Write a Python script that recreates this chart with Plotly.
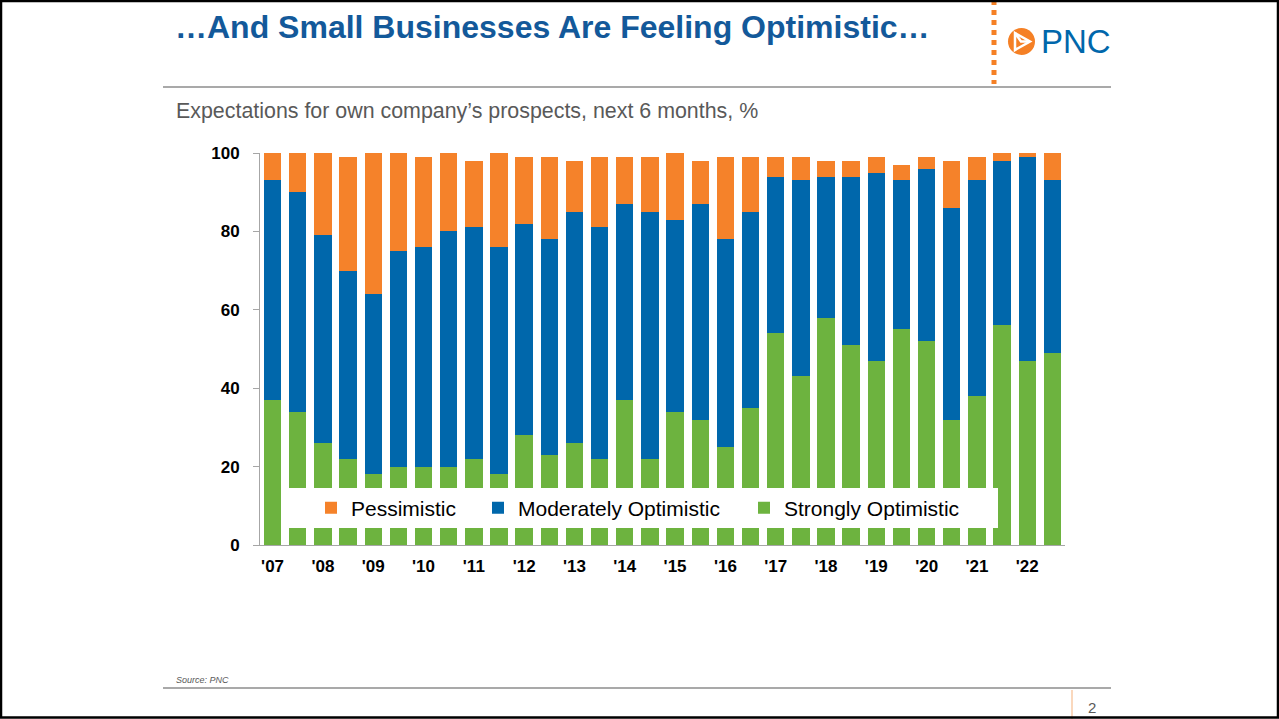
import plotly.graph_objects as go

W, H = 1279, 719

periods = [f"{y} H{h}" for y in range(2007, 2023) for h in (1, 2)]
year_labels = ["'07", "'08", "'09", "'10", "'11", "'12", "'13", "'14",
               "'15", "'16", "'17", "'18", "'19", "'20", "'21", "'22"]

strongly = [37, 34, 26, 22, 18, 20, 20, 20, 22, 18, 28, 23, 26, 22, 37, 22,
            34, 32, 25, 35, 54, 43, 58, 51, 47, 55, 52, 32, 38, 56, 47, 49]
moderately = [56, 56, 53, 48, 46, 55, 56, 60, 59, 58, 54, 55, 59, 59, 50, 63,
              49, 55, 53, 50, 40, 50, 36, 43, 48, 38, 44, 54, 55, 42, 52, 44]
pessimistic = [7, 10, 21, 29, 36, 25, 23, 20, 17, 24, 17, 21, 13, 18, 12, 14,
               17, 11, 21, 14, 5, 6, 4, 4, 4, 4, 3, 12, 6, 2, 1, 7]

ORANGE = "#F5822A"
BLUE = "#0067AB"
GREEN = "#6DB33F"
TITLE_BLUE = "#13599A"
FONT = "Liberation Sans, Arial, sans-serif"


def px(x):
    return x / W


def py(y):
    return 1 - y / H


fig = go.Figure()
fig.add_trace(go.Bar(x=periods, y=strongly, name="Strongly Optimistic",
                     marker=dict(color=GREEN, line=dict(width=0)), legend="legend3"))
fig.add_trace(go.Bar(x=periods, y=moderately, name="Moderately Optimistic",
                     marker=dict(color=BLUE, line=dict(width=0)), legend="legend2"))
fig.add_trace(go.Bar(x=periods, y=pessimistic, name="Pessimistic",
                     marker=dict(color=ORANGE, line=dict(width=0)), legend="legend"))

legend_common = dict(orientation="h", bgcolor="rgba(0,0,0,0)", borderwidth=0,
                     font=dict(family=FONT, size=21, color="#000000"),
                     xanchor="left", yanchor="middle", y=py(508))

shapes = [
    # white legend box over bars
    dict(type="rect", xref="paper", yref="paper", x0=px(282), x1=px(998),
         y0=py(528), y1=py(488), fillcolor="white", line=dict(width=0), layer="above"),
    # header rule
    dict(type="line", xref="paper", yref="paper", x0=px(163), x1=px(1111),
         y0=py(87), y1=py(87), line=dict(color="#8C8C8C", width=1.5)),
    # footer rule
    dict(type="line", xref="paper", yref="paper", x0=px(163), x1=px(1111),
         y0=py(688), y1=py(688), line=dict(color="#8C8C8C", width=1.5)),
    # orange dotted divider
    dict(type="line", xref="paper", yref="paper", x0=px(994), x1=px(994),
         y0=py(0), y1=py(84), line=dict(color="#F58025", width=5, dash="dot")),
    # page number divider
    dict(type="line", xref="paper", yref="paper", x0=px(1072), x1=px(1072),
         y0=py(690), y1=py(719), line=dict(color="#F9CBA7", width=1.5)),
    # logo circle
    dict(type="circle", xref="paper", yref="paper", x0=px(1008), x1=px(1035),
         y0=py(55), y1=py(28), fillcolor="#F58025", line=dict(width=0)),
    # logo inner arrow
    dict(type="path", xref="paper", yref="paper",
         path=(f"M {px(1015)},{py(33)} L {px(1030)},{py(41.5)} L {px(1015)},{py(50)} Z"),
         fillcolor="rgba(0,0,0,0)", line=dict(color="white", width=2.5)),
    dict(type="path", xref="paper", yref="paper",
         path=(f"M {px(1015)},{py(33)} L {px(1021)},{py(41.5)} L {px(1030)},{py(41.5)}"),
         line=dict(color="white", width=2.5)),
    # page frame
    dict(type="rect", xref="paper", yref="paper", x0=px(1), x1=px(1278),
         y0=py(717.5), y1=py(1), line=dict(color="#000000", width=2.5)),
]

annotations = [
    dict(text="<b>…And Small Businesses Are Feeling Optimistic…</b>", xref="paper", yref="paper",
         x=px(173), y=py(27), xanchor="left", yanchor="middle", showarrow=False,
         font=dict(family=FONT, size=32, color=TITLE_BLUE)),
    dict(text="Expectations for own company’s prospects, next 6 months, %", xref="paper",
         yref="paper", x=px(174), y=py(111), xanchor="left", yanchor="middle",
         showarrow=False, font=dict(family=FONT, size=21.4, color="#595959")),
    dict(text="PNC", xref="paper", yref="paper", x=px(1039), y=py(42), xanchor="left",
         yanchor="middle", showarrow=False, font=dict(family=FONT, size=33, color="#0067AB")),
    dict(text="<i>Source: PNC</i>", xref="paper", yref="paper", x=px(174), y=py(680),
         xanchor="left", yanchor="middle", showarrow=False,
         font=dict(family=FONT, size=9, color="#595959")),
    dict(text="2", xref="paper", yref="paper", x=px(1092), y=py(707), xanchor="center",
         yanchor="middle", showarrow=False, font=dict(family=FONT, size=15, color="#595959")),
]

fig.update_layout(
    width=W, height=H, autosize=False,
    margin=dict(l=0, r=0, t=0, b=0, pad=0, autoexpand=False),
    paper_bgcolor="white", plot_bgcolor="white",
    barmode="stack", bargap=0.31,
    showlegend=True,
    legend=dict(**legend_common, x=px(311), traceorder="normal"),
    legend2=dict(**legend_common, x=px(478)),
    legend3=dict(**legend_common, x=px(744)),
    xaxis=dict(domain=[px(260), px(1065)], type="category",
               tickvals=periods[::2], ticktext=year_labels,
               showline=True, linecolor="#A6A6A6", linewidth=1,
               ticks="", showgrid=False, zeroline=False,
               tickfont=dict(family=FONT, size=17, color="#000000", weight="bold"),
               ticklabelstandoff=6),
    yaxis=dict(domain=[py(545), py(153)], range=[0, 100], tickvals=[0, 20, 40, 60, 80, 100],
               showline=True, linecolor="#A6A6A6", linewidth=1,
               ticks="outside", ticklen=6, tickcolor="#A6A6A6",
               showgrid=False, zeroline=False,
               tickfont=dict(family=FONT, size=17, color="#000000", weight="bold"),
               ticklabelstandoff=10),
    shapes=shapes,
    annotations=annotations,
)

fig.write_html("out.html", config={"displayModeBar": False},
               post_script="document.body.style.margin='0px';document.body.style.overflow='hidden';")
